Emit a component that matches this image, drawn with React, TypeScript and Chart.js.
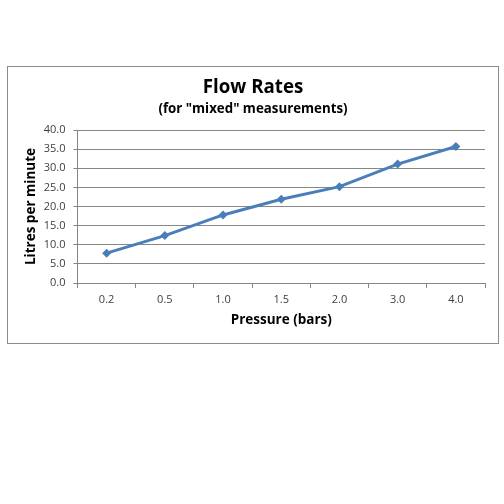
import React, { useEffect, useRef } from "react";
import { Chart, registerables } from "chart.js";

Chart.register(...registerables);

// Pressure in bars (category labels) and measured flow in litres per minute
const pressures = ["0.2", "0.5", "1.0", "1.5", "2.0", "3.0", "4.0"];
const flowRates = [7.8, 12.4, 17.8, 21.9, 25.2, 31.1, 35.7];

const titleText = "Flow Rates";
const subtitleText = '(for "mixed" measurements)';
const xTitle = "Pressure (bars)";
const yTitle = "Litres per minute";

const FONT = "'Open Sans', 'DejaVu Sans', sans-serif";
const GRID = "#868686";
const LINE = "#4a7ebb";

export default function App() {
  const canvasRef = useRef<HTMLCanvasElement | null>(null);

  useEffect(() => {
    const canvas = canvasRef.current;
    if (!canvas) return;
    const chart = new Chart(canvas, {
      type: "line",
      data: {
        labels: pressures,
        datasets: [
          {
            data: flowRates,
            borderColor: LINE,
            backgroundColor: LINE,
            borderWidth: 3,
            pointStyle: "rectRot",
            pointRadius: 4.5,
            pointBorderWidth: 0,
            tension: 0,
          },
        ],
      },
      options: {
        responsive: false,
        animation: false,
        devicePixelRatio: 1,
        // symmetric side padding keeps the titles centred on the frame
        layout: { padding: { left: 13, right: 13, top: 9, bottom: 0 } },
        plugins: {
          legend: { display: false },
          tooltip: { enabled: false },
          title: {
            display: true,
            text: titleText,
            color: "#000",
            font: { family: FONT, size: 18.7, weight: "bold" },
            padding: { top: 0, bottom: 0 },
          },
          subtitle: {
            display: true,
            text: subtitleText,
            color: "#000",
            font: { family: FONT, size: 13.3, weight: "bold" },
            padding: { top: 2.5, bottom: 13.2 },
          },
        },
        scales: {
          x: {
            offset: true,
            grid: {
              offset: true,
              drawOnChartArea: false,
              drawTicks: true,
              tickLength: 5,
              color: GRID,
            },
            border: { display: true, color: GRID, width: 1 },
            ticks: {
              color: "#404040",
              font: { family: FONT, size: 11 },
              padding: 5,
              maxRotation: 0,
            },
            title: {
              display: true,
              text: xTitle,
              color: "#000",
              font: { family: FONT, size: 13.5, weight: "bold" },
              padding: { top: 0, bottom: 14.9 },
            },
            afterFit: (scale: any) => {
              scale.height = 60;
            },
          },
          y: {
            min: 0,
            max: 40,
            ticks: {
              stepSize: 5,
              color: "#404040",
              font: { family: FONT, size: 11 },
              padding: 8,
              callback: (v: any) => Number(v).toFixed(1),
            },
            grid: { color: GRID, tickLength: 4, lineWidth: 1 },
            border: { display: true, color: GRID, width: 1 },
            title: {
              display: true,
              text: yTitle,
              color: "#000",
              font: { family: FONT, size: 13.5, weight: "bold" },
              padding: { top: 2.2, bottom: 0 },
            },
            afterFit: (scale: any) => {
              scale.width = 56.5;
            },
          },
        },
      },
    });
    return () => chart.destroy();
  }, []);

  return (
    <div
      style={{
        position: "absolute",
        left: 0,
        top: 0,
        width: 504,
        height: 504,
        background: "#fff",
      }}
    >
      <div
        style={{
          position: "absolute",
          left: 7,
          top: 66,
          width: 490,
          height: 276,
          border: "1px solid #8c8c8c",
          background: "#fff",
        }}
      >
        <canvas
          ref={canvasRef}
          width={490}
          height={276}
          style={{ display: "block", width: 490, height: 276 }}
        />
      </div>
    </div>
  );
}
